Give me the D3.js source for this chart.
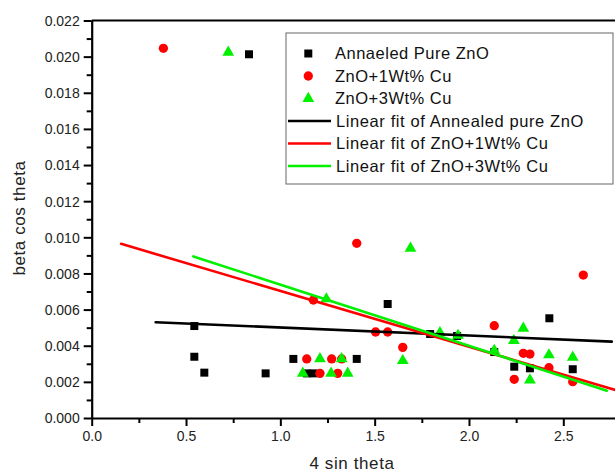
<!DOCTYPE html>
<html>
<head>
<meta charset="utf-8">
<script src="https://cdn.jsdelivr.net/npm/d3@7/dist/d3.min.js"></script>
<style>
  html, body { margin: 0; padding: 0; background: #fff; }
  svg { display: block; font-family: "Liberation Sans", Arial, sans-serif; }
</style>
</head>
<body>
<svg id="chart" width="615" height="473"></svg>
<script>
// ---- data ----
const pureX = [0.834, 0.544, 0.544, 0.597, 0.922, 1.069, 1.140, 1.175, 1.405, 1.569, 1.794, 1.937, 2.134, 2.240, 2.323, 2.426, 2.550];
const pureY = [0.02013, 0.00509, 0.00339, 0.00251, 0.00247, 0.00327, 0.00247, 0.00247, 0.00327, 0.00631, 0.00465, 0.00454, 0.00365, 0.00284, 0.00275, 0.00552, 0.00270];

const cu1X = [0.380, 1.405, 1.175, 1.505, 1.569, 1.649, 1.140, 1.272, 1.325, 1.210, 1.304, 2.134, 2.288, 2.323, 2.424, 2.240, 2.550, 2.606];
const cu1Y = [0.02046, 0.00967, 0.00653, 0.00476, 0.00476, 0.00391, 0.00327, 0.00327, 0.00327, 0.00247, 0.00247, 0.00511, 0.00358, 0.00354, 0.00278, 0.00214, 0.00201, 0.00791];

const cu3X = [0.724, 1.690, 1.244, 1.210, 1.325, 1.119, 1.269, 1.357, 1.649, 1.846, 1.942, 2.134, 2.238, 2.288, 2.424, 2.550, 2.323];
const cu3Y = [0.02024, 0.00939, 0.00659, 0.00327, 0.00327, 0.00247, 0.00247, 0.00247, 0.00317, 0.00472, 0.00457, 0.00374, 0.00428, 0.00496, 0.00349, 0.00336, 0.00210];

const seriesNames = ["Annaeled Pure ZnO", "ZnO+1Wt% Cu", "ZnO+3Wt% Cu"];
const fitNames = ["Linear fit of Annealed pure ZnO", "Linear fit of ZnO+1Wt% Cu", "Linear fit of ZnO+3Wt% Cu"];
const fitX0 = [0.339, 0.156, 0.539];
const fitX1 = [2.757, 2.800, 2.731];
const fitSlope = [-0.000443, -0.003089, -0.00339];
const fitIntercept = [0.00545, 0.01012, 0.01077];

const xTicks = [0, 0.5, 1.0, 1.5, 2.0, 2.5];
const xMinorTicks = [0.25, 0.75, 1.25, 1.75, 2.25];
const yTicks = [0, 0.002, 0.004, 0.006, 0.008, 0.010, 0.012, 0.014, 0.016, 0.018, 0.020, 0.022];
const yMinorTicks = [0.001, 0.003, 0.005, 0.007, 0.009, 0.011, 0.013, 0.015, 0.017, 0.019, 0.021];

const xLabel = "4 sin theta";
const yLabel = "beta cos theta";

// ---- styling ----
const colors = ["#000000", "#ff0000", "#00f000"];
const symbols = [d3.symbolSquare, d3.symbolCircle, d3.symbolTriangle];
const symSizes = [64, 68, 60];

const svg = d3.select("#chart");
const x = d3.scaleLinear().domain([0, 2.8]).range([91.7, 91.7 + 2.8 * 188.64]);
const y = d3.scaleLinear().domain([0, 0.022]).range([418, 20.5]);

// top frame line
svg.append("line")
  .attr("x1", x(0)).attr("x2", 620)
  .attr("y1", y(0.022)).attr("y2", y(0.022))
  .attr("stroke", "#000").attr("stroke-width", 2);

// x axis
svg.append("g").attr("transform", `translate(0,${y(0)})`)
  .call(d3.axisBottom(x).tickValues(xTicks).tickFormat(d3.format(".1f")).tickSize(8).tickSizeOuter(0).tickPadding(5));
svg.append("g").attr("transform", `translate(0,${y(0)})`)
  .call(d3.axisBottom(x).tickValues(xMinorTicks).tickFormat("").tickSize(5).tickSizeOuter(0))
  .call(g => g.select(".domain").remove());

// y axis
const yAxis = svg.append("g").attr("transform", `translate(${x(0)},0)`)
  .call(d3.axisLeft(y).tickValues(yTicks).tickFormat(d3.format(".3f")).tickSize(8).tickSizeOuter(0).tickPadding(4));
svg.append("g").attr("transform", `translate(${x(0)},0)`)
  .call(d3.axisLeft(y).tickValues(yMinorTicks).tickFormat("").tickSize(5).tickSizeOuter(0))
  .call(g => g.select(".domain").remove());

svg.selectAll(".domain").attr("stroke", "#000").attr("stroke-width", 2.2);
svg.selectAll(".tick line").attr("stroke", "#000").attr("stroke-width", 2);
svg.selectAll(".tick text").attr("font-size", 14).attr("fill", "#222")
  .attr("font-family", "'Liberation Sans', Arial, sans-serif");
yAxis.selectAll(".tick text").attr("dy", "0.35em");

// axis titles
svg.append("text").attr("x", 352).attr("y", 468.5).attr("text-anchor", "middle")
  .attr("font-size", 17).attr("letter-spacing", 0.6).attr("fill", "#222").text(xLabel);
svg.append("text").attr("transform", `translate(25,218) rotate(-90)`).attr("text-anchor", "middle")
  .attr("font-size", 17).attr("letter-spacing", 0.6).attr("fill", "#222").text(yLabel);

// points
const seriesX = [pureX, cu1X, cu3X];
const seriesY = [pureY, cu1Y, cu3Y];
seriesX.forEach((xs, i) => {
  const pts = xs.map((v, j) => [v, seriesY[i][j]]);
  svg.append("g").selectAll("path").data(pts).join("path")
    .attr("d", d3.symbol().type(symbols[i]).size(symSizes[i]))
    .attr("transform", d => `translate(${x(d[0])},${y(d[1])})`)
    .attr("fill", colors[i]);
});

// fit lines
fitNames.forEach((n, i) => {
  svg.append("line")
    .attr("x1", x(fitX0[i])).attr("y1", y(fitIntercept[i] + fitSlope[i] * fitX0[i]))
    .attr("x2", x(fitX1[i])).attr("y2", y(fitIntercept[i] + fitSlope[i] * fitX1[i]))
    .attr("stroke", colors[i]).attr("stroke-width", 2.6).attr("stroke-linecap", "round");
});

// legend
const leg = svg.append("g");
leg.append("rect").attr("x", 286).attr("y", 33).attr("width", 327).attr("height", 151)
  .attr("fill", "#fff").attr("stroke", "#666").attr("stroke-width", 1);
const rowY = [53.5, 76, 98.5, 121, 143.5, 166];
seriesNames.forEach((n, i) => {
  leg.append("path").attr("d", d3.symbol().type(symbols[i]).size(symSizes[i]))
    .attr("transform", `translate(308.3,${rowY[i]})`).attr("fill", colors[i]);
  leg.append("text").attr("x", 335).attr("y", rowY[i]).attr("dy", "0.36em")
    .attr("font-size", 16.5).attr("letter-spacing", 0.5).attr("fill", "#111").text(n);
});
fitNames.forEach((n, i) => {
  const ry = rowY[i + 3];
  leg.append("line").attr("x1", 288).attr("x2", 331).attr("y1", ry).attr("y2", ry)
    .attr("stroke", colors[i]).attr("stroke-width", 2.6);
  leg.append("text").attr("x", 336).attr("y", ry).attr("dy", "0.36em")
    .attr("font-size", 16.5).attr("letter-spacing", 0.6).attr("fill", "#111").text(n);
});
</script>
</body>
</html>
